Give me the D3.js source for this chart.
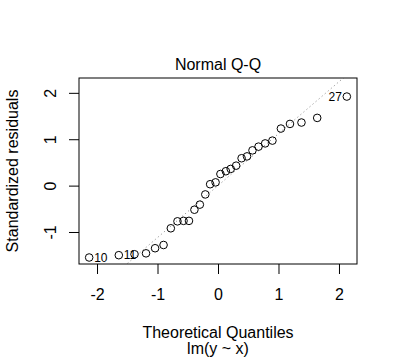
<!DOCTYPE html>
<html>
<head>
<meta charset="utf-8">
<script src="https://cdn.jsdelivr.net/npm/d3@7"></script>
<style>
  body { margin: 0; background: #fff; }
  text { font-family: "Liberation Sans", Arial, sans-serif; fill: #000; }
</style>
</head>
<body>
<div id="chart"></div>
<script>
// theoretical quantiles (x) and standardized residuals (y)
const theoretical = [-2.13, -1.64, -1.38, -1.19, -1.04, -0.90, -0.78, -0.67, -0.57, -0.48,
  -0.39, -0.30, -0.21, -0.13, -0.04, 0.04, 0.13, 0.21, 0.30, 0.39,
  0.48, 0.57, 0.67, 0.78, 0.90, 1.04, 1.19, 1.38, 1.64, 2.13];
const residuals = [-1.55, -1.50, -1.48, -1.46, -1.35, -1.28, -0.92, -0.77, -0.76, -0.76,
  -0.52, -0.41, -0.19, 0.03, 0.07, 0.25, 0.31, 0.36, 0.43, 0.59,
  0.63, 0.76, 0.84, 0.91, 0.97, 1.23, 1.33, 1.36, 1.46, 1.92];
// labelled observations: index into the arrays above, id text, side
const labelled = [
  { i: 0, id: "10", side: "right" },
  { i: 1, id: "11", side: "right" },
  { i: 29, id: "27", side: "left" }
];
const xTicks = [-2, -1, 0, 1, 2];
const yTicks = [-1, 0, 1, 2];
const refLine = { intercept: 0.0, slope: 1.12 };

const W = 398, H = 363;
const box = { left: 79, right: 357, top: 78, bottom: 264 };
const lineH = 19;

const svg = d3.select("#chart").append("svg")
  .attr("width", W)
  .attr("height", H);

svg.append("rect").attr("width", W).attr("height", H).attr("fill", "#fff");

const x = d3.scaleLinear().domain([-2.298, 2.298]).range([box.left, box.right]);
const y = d3.scaleLinear().domain([-1.69, 2.32]).range([box.bottom, box.top]);

svg.append("clipPath").attr("id", "clip")
  .append("rect")
  .attr("x", box.left).attr("y", box.top)
  .attr("width", box.right - box.left).attr("height", box.bottom - box.top);

// dotted reference line
const xd = x.domain();
svg.append("line")
  .attr("clip-path", "url(#clip)")
  .attr("x1", x(xd[0])).attr("y1", y(refLine.intercept + refLine.slope * xd[0]))
  .attr("x2", x(xd[1])).attr("y2", y(refLine.intercept + refLine.slope * xd[1]))
  .attr("stroke", "#808080")
  .attr("stroke-width", 1)
  .attr("stroke-dasharray", "1,3");

// axes (R style: ticks outward, labels below / rotated at left)
const xAxis = svg.append("g")
  .attr("transform", `translate(0,${box.bottom})`)
  .call(d3.axisBottom(x).tickValues(xTicks).tickSize(10).tickPadding(0).tickFormat(d => String(d)));
xAxis.select(".domain").remove();
xAxis.selectAll("line").attr("stroke", "#000");
xAxis.selectAll("text")
  .attr("y", 36).attr("dy", null)
  .style("font-size", "16px")
  .style("font-family", "'Liberation Sans', Arial, sans-serif")
  .attr("fill", "#000");

const yAxis = svg.append("g")
  .attr("transform", `translate(${box.left},0)`)
  .call(d3.axisLeft(y).tickValues(yTicks).tickSize(10).tickFormat(d => String(d)));
yAxis.select(".domain").remove();
yAxis.selectAll("line").attr("stroke", "#000");
yAxis.selectAll("text")
  .attr("x", null).attr("dy", null)
  .attr("transform", "translate(" + (-(1.2 * lineH)) + ",0) rotate(-90)")
  .attr("text-anchor", "middle")
  .style("font-size", "16px")
  .style("font-family", "'Liberation Sans', Arial, sans-serif")
  .attr("fill", "#000");

// box
svg.append("rect")
  .attr("x", box.left).attr("y", box.top)
  .attr("width", box.right - box.left).attr("height", box.bottom - box.top)
  .attr("fill", "none").attr("stroke", "#000").attr("stroke-width", 1);

// points
svg.append("g").selectAll("circle")
  .data(theoretical.map((t, i) => ({ t: t, r: residuals[i] })))
  .join("circle")
  .attr("cx", d => x(d.t))
  .attr("cy", d => y(d.r))
  .attr("r", 3.8)
  .attr("fill", "none")
  .attr("stroke", "#000")
  .attr("stroke-width", 1);

// id labels
svg.append("g").selectAll("text")
  .data(labelled)
  .join("text")
  .attr("x", d => x(theoretical[d.i]) + (d.side === "right" ? 5 : -5))
  .attr("y", d => y(residuals[d.i]) + 4.3)
  .attr("text-anchor", d => d.side === "right" ? "start" : "end")
  .style("font-size", "12px")
  .text(d => d.id);

// titles
const cx = (box.left + box.right) / 2;
svg.append("text")
  .attr("x", cx).attr("y", 69.5)
  .attr("text-anchor", "middle")
  .style("font-size", "16px")
  .text("Normal Q-Q");

svg.append("text")
  .attr("x", cx).attr("y", 338)
  .attr("text-anchor", "middle")
  .style("font-size", "16px")
  .text("Theoretical Quantiles");

svg.append("text")
  .attr("x", cx).attr("y", 354)
  .attr("text-anchor", "middle")
  .style("font-size", "16px")
  .text("lm(y ~ x)");

svg.append("text")
  .attr("transform", `translate(${box.left - 3.2 * lineH},${(box.top + box.bottom) / 2}) rotate(-90)`)
  .attr("text-anchor", "middle")
  .style("font-size", "16px")
  .text("Standardized residuals");
</script>
</body>
</html>
